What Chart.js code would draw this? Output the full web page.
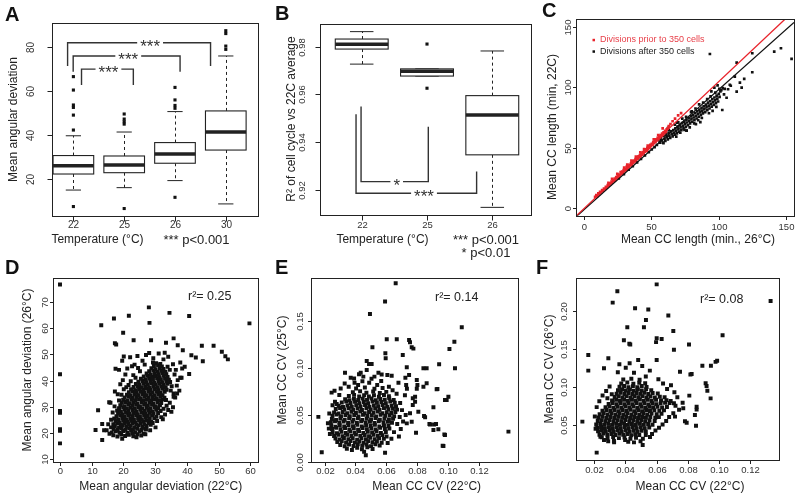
<!DOCTYPE html>
<html>
<head>
<meta charset="utf-8">
<title>Figure</title>
<script src="https://cdn.jsdelivr.net/npm/chart.js@4.4.1/dist/chart.umd.min.js"></script>
<style>
  html, body { margin: 0; padding: 0; background: #fff; }
  #fig { position: relative; width: 800px; height: 499px; overflow: hidden; }
  #fig canvas { position: absolute; left: 0; top: 0; }
</style>
</head>
<body>
<div id="fig">
  <canvas id="cA" width="800" height="499"></canvas>
  <canvas id="cB" width="800" height="499"></canvas>
  <canvas id="cC" width="800" height="499"></canvas>
  <canvas id="cD" width="800" height="499"></canvas>
  <canvas id="cE" width="800" height="499"></canvas>
  <canvas id="cF" width="800" height="499"></canvas>
</div>
<script>
// ---- A: mean angular deviation per temperature (box plot)
const tempLabelsA = ['22', '25', '26', '30'];
const aWhiskerLo = [14.8, 15.9, 19.1, 8.5];
const aQ1 = [22.1, 22.7, 27.0, 33.0];
const aMedian = [25.9, 26.2, 31.2, 41.2];
const aQ3 = [30.5, 30.3, 36.4, 50.8];
const aWhiskerHi = [39.5, 41.2, 50.5, 75.8];
const aOutliers = [[1, 66.4], [1, 60.3], [1, 53.5], [1, 52.4], [1, 48.9], [1, 42.1], [1, 7.3],
  [2, 49.4], [2, 47.1], [2, 45.9], [2, 44.8], [2, 6.4],
  [3, 61.5], [3, 55.8], [3, 53.3], [3, 52.0], [3, 11.5],
  [4, 87.3], [4, 86.0], [4, 80.3], [4, 78.8]];
const aTicksY = [20, 40, 60, 80];
// significance brackets in A
const aBrLeft = [0.886, 0.996, 1.16];
const aBrRight = [3.70, 3.10, 2.18];
const aBrLevel = [81.8, 75.8, 69.8];
const aBrFoot = [71.2, 68.6, 62.6];
const aBrTextX = [2.51, 2.08, 1.69];
const aBrText = ['***', '***', '***'];

// ---- B: R^2 of cell cycle vs 22C average
const tempLabelsB = ['22', '25', '26'];
const bWhiskerLo = [0.9727, 0.9677, 0.9127];
const bQ1 = [0.9790, 0.9677, 0.9347];
const bMedian = [0.9810, 0.9697, 0.9514];
const bQ3 = [0.9832, 0.9707, 0.9595];
const bWhiskerHi = [0.9863, 0.9707, 0.9782];
const bOutliers = [[2, 0.9811], [2, 0.9626]];
const bTicksY = [0.92, 0.94, 0.96, 0.98];
const bTickLabelsY = ['0.92', '0.94', '0.96', '0.98'];
const bBrLeft = [0.99, 0.913];
const bBrRight = [2.02, 2.76];
const bBrLevel = [0.9235, 0.9186];
const bBrLeftEnd = [0.9549, 0.9517];
const bBrRightEnd = [0.9465, 0.9277];
const bBrTextX = [1.536, 1.954];
const bBrText = ['*', '***'];

// ---- C: mean CC length 26C vs 22C
const cTicks = [0, 50, 100, 150];
const cRedFitX = [-6, 150];
const cRedFitY = [-6.3, 156.8];
const cBlackFitX = [-6, 156];
const cBlackFitY = [-6.9, 153.4];
const cRed = [[8.2,9.6],[9.1,10.9],[9.7,10.2],[10.6,12.4],[11.2,11.8],[11.9,13.7],[12.7,13.3],[13.4,15.1],[14.1,14.6],[14.8,16.4],[15.5,15.8],[16.2,17.7],[16.9,17.1],[17.6,19.2],[18.3,18.7],[19,20.6],[19.6,19.9],[20.4,22.2],[21,21.3],[21.6,23.5],[22.2,22.8],[22.8,24.7],[23.3,23.6],[23.9,25.8],[24.5,25],[25,27.4],[25.6,26.2],[26.1,28],[26.7,27.3],[27.2,29.9],[27.8,28.5],[28.3,30.3],[28.9,29.7],[29.4,31.6],[30,30.8],[30.5,32.5],[31.1,31.8],[31.6,34.4],[32.2,33],[32.7,35],[33.3,34.1],[33.8,35.9],[34.4,35.4],[34.9,37.2],[35.5,36.3],[36,38.8],[36.6,37.5],[37.1,39.5],[37.7,38.7],[38.2,40.6],[38.8,39.8],[39.3,41.7],[39.9,41],[40.4,42.9],[41,42.1],[41.5,44],[42.1,43.2],[42.6,45.3],[43.2,44.4],[43.7,46.5],[44.3,45.5],[44.8,47.4],[45.4,46.8],[45.9,48.7],[46.5,47.7],[47,50],[47.6,48.9],[48.1,51.1],[48.7,50.2],[49.2,52.4],[49.8,51.3],[50.3,53.3],[50.9,52.5],[51.4,54.7],[52,53.8],[52.5,55.8],[53.1,54.9],[53.6,57],[54.2,56.1],[54.7,58.2],[55.3,57.1],[55.8,59.3],[56.4,58.5],[56.9,60.4],[57.5,59.6],[58,61.7],[58.6,60.6],[59.1,62.8],[59.7,62],[60.2,63.9],[60.8,63.1],[61.4,65.2],[62.1,66],[58.4,66.1],[62.9,67.9],[64.2,69.6],[65.8,71.9],[67.6,74.1],[69.9,76.7],[72.1,78.6],[24.7,28.6],[29.8,33.7],[32.1,36.1],[35.2,39.4],[41.8,46.2],[47.3,51.8],[51.8,56.9],[55.1,60.5],[20.8,24.3],[18.1,21.2],[44.6,48.9],[38.5,42.8]];
const cBlack = [[25.8,24.8],[29.6,28.3],[33.1,31.9],[36.2,34.8],[39.4,38],[42.3,40.9],[45.2,43.7],[48.1,46.5],[50.3,48.6],[52.4,50.6],[54.1,52.4],[56.3,54.3],[57.2,56.7],
  [55.5,57],[56.2,55],[57,58.5],[57.8,56.2],[58.5,54.3],[59.1,59.8],[59.8,57.4],[60.4,55.6],[61,60.8],[61.6,58.7],[62.2,56.9],[62.8,62.3],[63.4,60.1],[64,58.2],[64.6,63.5],[65.2,61.4],[65.8,59.5],[60.5,62.6],[63,64.5],[59,53.8],[62.5,66.5],
  [66.3,64.7],[66.8,62.6],[67.3,60.8],[67.9,66.1],[68.4,64],[69,61.9],[69.5,67.4],[70.1,65.3],[70.6,63.4],[71.2,68.9],[71.7,66.8],[72.3,64.6],[72.8,70.3],[73.4,68.1],[73.9,66],[74.5,71.6],[75,69.5],[75.6,67.2],[76.1,73.1],[76.6,70.9],[67.5,69],[70,71],[73,74],[68.5,59.3],[74.6,64.8],[76.2,64.1],[71.5,62.4],[75.8,75.6],[69.2,70.8],
  [77.2,68.6],[77.7,74.4],[78.2,72.3],[78.8,70.1],[79.3,76],[79.8,73.6],[80.4,71.5],[80.9,77.2],[81.4,75],[82,72.9],[82.5,78.7],[83,76.4],[83.6,74.2],[84.1,80.1],[84.6,77.8],[85.2,75.6],[85.7,81.5],[86.2,79.3],[86.8,77],[87.3,82.9],[87.8,80.6],[88.3,78.4],[80,80.1],[82.8,82.4],[85.5,85.8],[88.5,87.3],[78.5,66.8],[81.8,70.2],[84.8,72.9],[87.5,74.6],[79.5,79.4],
  [88.9,84.1],[89.4,81.9],[90,79.5],[90.5,85.6],[91,83.4],[91.6,81],[92.1,87.2],[92.6,84.8],[93.2,82.4],[93.7,88.6],[94.2,86.3],[94.8,83.9],[95.3,90.2],[95.8,87.7],[96.4,85.4],[96.9,91.5],[97.4,89.1],[98,86.8],[98.5,93],[99,90.6],[99.6,88.2],[100.1,94.5],[100.7,92],[101.3,96.6],[91.5,90.2],[94,92.5],[97.5,95.5],[100.5,98.6],[102,97.5],[103,99.3],[104.5,98.6],[92.8,78.5],[95.5,80.4],[98.3,83.7],[96.8,99.6],[99.2,101.5],[94.6,96.5],
  [93.5,127.4],[113.4,120.2],[125,128],[141.3,129.3],[146.3,132.1],[154.2,123.3],[125,112.3],[119,106.8],[117.1,99.6],[113.4,96.3],[105.9,91.3],[102.7,81.2],[112,108.7],[115.8,103.7],[108.3,102],[109,101.2],[107,98.3],[104,94],[76.2,64.1],[86.4,71.2],[83.1,69.5]];

// ---- D: mean angular deviation 22C vs 26C
const dTicksX = [0, 10, 20, 30, 40, 50, 60];
const dTicksY = [10, 20, 30, 40, 50, 60, 70];
const dPoints = [
  [16.8,19.2],[18.1,18.7],[19.3,19.5],[20.5,18.9],[21.7,19.4],[23.1,18.8],[24.4,19.6],[15.6,19.8],
  [16.3,20.3],[17.6,20.7],[18.8,20.1],[19.9,20.8],[21.2,20.2],[22.4,20.9],[23.7,20.3],[25.1,20.6],[26.4,19.8],
  [16.9,21.6],[18.2,21.2],[19.4,21.8],[20.6,21.3],[21.8,21.9],[23,21.4],[24.3,21.7],[25.6,21.2],[26.8,21.8],
  [17.3,22.6],[18.6,22.2],[19.8,22.9],[21,22.4],[22.3,22.8],[23.5,22.3],[24.8,22.9],[26,22.4],[27.3,22.7],
  [16.8,23.4],[18,23.8],[19.2,23.3],[20.4,23.9],[21.6,23.5],[22.9,23.9],[24.1,23.3],[25.4,23.8],[26.6,23.4],[27.9,23.9],
  [17.5,24.5],[18.7,24.2],[19.9,24.8],[21.2,24.3],[22.4,24.7],[23.7,24.2],[24.9,24.8],[26.2,24.4],[27.4,24.9],[28.7,24.3],
  [17.1,25.6],[18.3,25.2],[19.6,25.8],[20.8,25.3],[22.1,25.7],[23.3,25.2],[24.6,25.8],[25.8,25.3],[27,25.9],[28.3,25.4],[29.7,25.7],
  [17.8,26.4],[19,26.8],[20.3,26.3],[21.5,26.9],[22.8,26.4],[24,26.8],[25.2,26.3],[26.5,26.9],[27.7,26.5],[29,26.8],[30.4,26.2],
  [18.3,27.5],[19.6,27.2],[20.8,27.8],[22,27.3],[23.3,27.7],[24.5,27.2],[25.7,27.8],[27,27.3],[28.2,27.9],[29.5,27.4],[30.9,27.7],
  [18,28.6],[19.2,28.3],[20.4,28.9],[21.6,28.4],[22.9,28.8],[24.1,28.3],[25.3,28.9],[26.6,28.4],[27.8,28.8],[29.1,28.3],[30.3,28.9],
  [18.6,29.5],[19.9,29.9],[21.1,29.4],[22.3,29.8],[23.6,29.3],[24.8,29.9],[26,29.4],[27.3,29.8],[28.5,29.3],[29.8,29.9],[31,29.5],
  [19,30.6],[20.3,30.3],[21.5,30.9],[22.8,30.4],[24,30.8],[25.2,30.3],[26.5,30.9],[27.7,30.4],[29,30.8],[30.2,30.3],[31.5,30.7],
  [19.5,31.6],[20.7,31.9],[22,31.4],[23.2,31.8],[24.4,31.3],[25.7,31.9],[26.9,31.4],[28.2,31.8],[29.4,31.3],[30.7,31.9],[31.9,31.5],
  [19.9,32.7],[21.2,32.3],[22.5,32.8],[23.7,32.4],[24.9,32.9],[26.2,32.4],[27.4,32.8],[28.7,32.3],[29.9,32.9],[31.2,32.4],[32.4,32.8],
  [20.4,33.6],[21.7,33.9],[22.9,33.4],[24.1,33.8],[25.4,33.3],[26.6,33.9],[27.9,33.4],[29.1,33.8],[30.4,33.3],[31.6,33.9],[32.9,33.5],
  [21.1,34.6],[22.3,34.3],[23.6,34.8],[24.8,34.4],[26.1,34.9],[27.3,34.4],[28.5,34.8],[29.8,34.3],[31,34.9],[32.3,34.4],
  [21.7,35.6],[23,35.9],[24.2,35.4],[25.5,35.8],[26.7,35.3],[28,35.9],[29.2,35.4],[30.5,35.8],[31.7,35.3],[33,35.8],
  [22.4,36.7],[23.7,36.3],[24.9,36.8],[26.2,36.4],[27.4,36.9],[28.6,36.4],[29.9,36.8],[31.1,36.3],[32.4,36.9],[33.6,36.5],
  [23.2,37.6],[24.5,37.9],[25.8,37.4],[27,37.8],[28.3,37.3],[29.5,37.9],[30.8,37.4],[32,37.8],[33.3,37.4],
  [23.9,38.7],[25.1,38.3],[26.4,38.8],[27.7,38.4],[28.9,38.9],[30.2,38.4],[31.4,38.8],[32.7,38.3],[33.9,38.8],
  [24.7,39.6],[26,39.9],[27.2,39.4],[28.5,39.8],[29.7,39.3],[31,39.9],[32.2,39.4],[33.5,39.8],[34.7,39.5],
  [25.5,40.7],[26.9,40.3],[28.1,40.8],[29.3,40.4],[30.6,40.9],[31.8,40.4],[33.1,40.8],[34.3,40.3],
  [26.4,41.6],[27.7,41.9],[29,41.4],[30.2,41.8],[31.4,41.3],[32.7,41.9],[33.9,41.4],
  [27.3,42.7],[28.6,42.3],[29.8,42.8],[31.1,42.4],[32.3,42.9],[33.5,42.4],
  [28.1,43.6],[29.4,43.9],[30.7,43.4],[31.9,43.8],[33.2,43.4],
  [28.8,44.7],[30.1,44.3],[31.4,44.8],[32.6,44.4],[29.6,45.6],[30.9,45.9],[32.1,45.4],[30.3,46.6],[31.6,46.3],
  [15.5,31.8],[16.6,27.9],[17.3,35.9],[18.2,34.8],[19,38.6],[19.8,40.2],[20.6,42.3],[21.2,44.6],[19.6,47.6],[22.1,48.9],[23.5,46.1],[24.4,49.4],[26,47.6],[27.1,49.8],[25.2,43.6],[21.6,38.3],[20.1,36.7],[23.1,42.1],[26.7,46.1],[28.1,50.5],[29.4,48.5],[31.1,50.3],[33,50.6],[34.1,49.1],[32.6,48.1],[35.6,46.2],[36.5,44.1],[36.1,42.3],[37.1,40.2],[36.8,38.1],[37.6,36.2],[35.8,35.1],[36.3,33.6],[34.6,31.6],[33.6,30.4],[35.6,29.9],[34.1,28.8],[33.1,27.1],[35.1,28.1],[30.6,24.6],[31.9,26.1],[30.1,22.2],[28.6,23.2],[27.1,21.4],[25.6,19.1],[26.9,19.6],[24.1,18.4],[19.6,17.9],[38.3,41.1],[33.9,45.3],[34.6,44.1],[35.2,37.9],[34.9,36.2],[36.9,35.1],[33.4,32.6],[32.6,29.3],[31.7,28.4],[32.4,25.3],[29.2,23.9],[28.4,21.1],[22.9,19.9],[17.2,30.2],[16.1,25.1],[15.2,23.4],[14.7,21.1],[18.6,32.4],[19.4,34.6],[20.9,37.5],[22.3,39.8],[23.8,41.1],[24.6,44.8],[22.7,45.5],[18.6,44.1],[17.5,44.5],[20.1,49.2],[16.1,22.2],[13.9,21.1],[29.3,46.9],
  [0,76.6],[0,42.4],[0,28.4],[0,27.8],[0,21.5],[0,20.9],[0,16.1],[7,11.6],[13,61.1],[17,63.7],[21.7,64.7],[28,67.9],[28.2,62],[34.5,65.8],[40.7,64.6],[59.7,61.8],[19.9,58.2],[17.3,54.2],[17.7,53.8],[23.2,55.4],[28.7,55.4],[33.4,54.4],[35.8,56.1],[37.1,53.5],[38.7,51.6],[44.7,53.3],[48.4,53.3],[51,51],[52.1,49.3],[52.9,48.1],[45,47.4],[42.8,48.8],[41.4,49.7],[37.9,46.9],[39.3,45.3],[37.9,41.1],[38.5,44.6],[40.7,42.5],[35.8,33.9],[12,28.7],[11.2,21.2],[13.3,23.5],[13.3,17.4],[15.9,31.6]];

// ---- E: mean CC CV 22C vs 25C
const cvTicksX = [0.02, 0.04, 0.06, 0.08, 0.10, 0.12];
const cvTickLabelsX = ['0.02', '0.04', '0.06', '0.08', '0.10', '0.12'];
const eTicksY = [0, 0.05, 0.10, 0.15];
const eTickLabelsY = ['0.00', '0.05', '0.10', '0.15'];
const ePoints = [
  [0.0345,0.0142],[0.0378,0.0128],[0.0412,0.0151],[0.0443,0.0135],[0.0478,0.0158],[0.0512,0.0139],
  [0.0302,0.0181],[0.0331,0.0168],[0.0359,0.0186],[0.0388,0.0171],[0.0416,0.0189],[0.0445,0.0173],[0.0473,0.0185],[0.0502,0.0169],[0.053,0.0188],[0.0558,0.0176],
  [0.0283,0.0212],[0.0312,0.0221],[0.034,0.0207],[0.0369,0.0223],[0.0397,0.0209],[0.0426,0.0218],[0.0454,0.0204],[0.0483,0.0222],[0.0511,0.0211],[0.054,0.0219],[0.0571,0.0206],
  [0.0271,0.0251],[0.0298,0.0239],[0.0326,0.0256],[0.0355,0.0241],[0.0383,0.0254],[0.0412,0.0238],[0.044,0.0252],[0.0469,0.0243],[0.0497,0.0257],[0.0526,0.0241],[0.0554,0.0253],[0.0585,0.0246],
  [0.0262,0.0277],[0.029,0.0291],[0.0318,0.0274],[0.0347,0.0289],[0.0375,0.0276],[0.0404,0.0292],[0.0432,0.0278],[0.0461,0.0288],[0.0489,0.0273],[0.0518,0.0291],[0.0546,0.0279],[0.0575,0.0286],[0.0603,0.0272],
  [0.0253,0.0318],[0.0281,0.0306],[0.031,0.0322],[0.0338,0.0309],[0.0367,0.0324],[0.0395,0.0311],[0.0424,0.0326],[0.0452,0.0308],[0.0481,0.0321],[0.0509,0.0313],[0.0538,0.0327],[0.0566,0.0309],[0.0598,0.0319],
  [0.0249,0.0352],[0.0276,0.0364],[0.0304,0.0348],[0.0333,0.0361],[0.0361,0.0346],[0.039,0.0359],[0.0418,0.0344],[0.0447,0.0362],[0.0475,0.0349],[0.0504,0.0358],[0.0532,0.0345],[0.0561,0.0363],[0.0592,0.0351],[0.0621,0.0357],
  [0.0244,0.0388],[0.0271,0.0376],[0.0299,0.0392],[0.0328,0.0379],[0.0356,0.0394],[0.0385,0.0381],[0.0413,0.0396],[0.0442,0.0378],[0.047,0.0391],[0.0499,0.0383],[0.0527,0.0397],[0.0556,0.0379],[0.0586,0.0389],[0.0615,0.0382],
  [0.0241,0.0423],[0.0268,0.0434],[0.0296,0.0418],[0.0324,0.0431],[0.0353,0.0416],[0.0381,0.0429],[0.041,0.0414],[0.0438,0.0432],[0.0467,0.0419],[0.0495,0.0428],[0.0524,0.0415],[0.0552,0.0433],[0.0583,0.0421],[0.0612,0.0427],[0.0638,0.0417],
  [0.0248,0.0458],[0.0275,0.0446],[0.0303,0.0462],[0.0331,0.0449],[0.036,0.0464],[0.0388,0.0451],[0.0417,0.0466],[0.0445,0.0448],[0.0474,0.0461],[0.0502,0.0453],[0.0531,0.0467],[0.0559,0.0449],[0.0589,0.0459],[0.0618,0.0452],[0.0645,0.0461],
  [0.0252,0.0493],[0.0279,0.0504],[0.0307,0.0488],[0.0336,0.0501],[0.0364,0.0486],[0.0393,0.0499],[0.0421,0.0484],[0.045,0.0502],[0.0478,0.0489],[0.0507,0.0498],[0.0535,0.0485],[0.0564,0.0503],[0.0594,0.0491],[0.0623,0.0497],[0.0652,0.0487],
  [0.0262,0.0528],[0.029,0.0516],[0.0318,0.0532],[0.0347,0.0519],[0.0375,0.0534],[0.0404,0.0521],[0.0432,0.0536],[0.0461,0.0518],[0.0489,0.0531],[0.0518,0.0523],[0.0546,0.0537],[0.0575,0.0519],[0.0604,0.0529],[0.0633,0.0522],[0.066,0.0531],
  [0.0273,0.0563],[0.0301,0.0574],[0.0329,0.0558],[0.0358,0.0571],[0.0386,0.0556],[0.0415,0.0569],[0.0443,0.0554],[0.0472,0.0572],[0.05,0.0559],[0.0529,0.0568],[0.0557,0.0555],[0.0586,0.0573],[0.0615,0.0561],[0.0644,0.0567],[0.0671,0.0557],
  [0.0292,0.0598],[0.032,0.0586],[0.0349,0.0602],[0.0377,0.0589],[0.0406,0.0604],[0.0434,0.0591],[0.0463,0.0606],[0.0491,0.0588],[0.052,0.0601],[0.0548,0.0593],[0.0577,0.0607],[0.0607,0.0589],[0.0636,0.0599],[0.0664,0.0592],
  [0.0312,0.0633],[0.0341,0.0644],[0.0369,0.0628],[0.0398,0.0641],[0.0426,0.0626],[0.0455,0.0639],[0.0483,0.0624],[0.0512,0.0642],[0.054,0.0629],[0.0569,0.0638],[0.0598,0.0625],[0.0627,0.0643],[0.0656,0.0631],
  [0.0334,0.0668],[0.0362,0.0656],[0.0391,0.0672],[0.0419,0.0659],[0.0448,0.0674],[0.0476,0.0661],[0.0505,0.0676],[0.0533,0.0658],[0.0562,0.0671],[0.0591,0.0663],[0.062,0.0677],[0.0649,0.0659],
  [0.0358,0.0703],[0.0392,0.0714],[0.0425,0.0698],[0.0457,0.0711],[0.0488,0.0696],[0.0521,0.0709],[0.0553,0.0694],[0.0586,0.0712],[0.0618,0.0699],
  [0.0384,0.0741],[0.0431,0.0752],[0.0472,0.0737],[0.0516,0.0749],[0.0559,0.0735],[0.0601,0.0746],
  [0.0405,0.0781],[0.0462,0.0792],[0.0524,0.0779],[0.0577,0.0788],
  [0.0222,0.0412],[0.0228,0.0355],[0.0235,0.0298],[0.0231,0.0517],[0.0252,0.0603],[0.0265,0.0757],[0.0305,0.0782],[0.0331,0.0835],[0.0357,0.0801],[0.0395,0.0842],[0.0418,0.0818],[0.0446,0.0859],[0.049,0.0843],[0.0505,0.0885],[0.0542,0.0818],[0.0568,0.0862],[0.0618,0.0801],[0.0642,0.0764],[0.0668,0.0726],[0.0691,0.0628],[0.0703,0.0552],[0.0688,0.0478],[0.0672,0.0405],[0.0695,0.0352],[0.0651,0.0318],[0.0634,0.0248],[0.061,0.0202],[0.0683,0.0271],[0.071,0.0431],
  [0.0246,0.0738],[0.0296,0.0713],[0.0268,0.064],[0.0279,0.0617],[0.0333,0.095],[0.037,0.0897],[0.0392,0.0887],[0.0424,0.0933],[0.0435,0.095],[0.0452,0.0908],[0.0474,0.0979],[0.0524,0.0908],[0.0571,0.093],[0.0608,0.0925],[0.0636,0.0918],[0.068,0.0844],[0.0725,0.0897],[0.073,0.082],[0.0735,0.078],[0.0722,0.071],[0.0799,0.078],[0.0788,0.0695],[0.0842,0.08],[0.0863,0.0837],[0.0788,0.064],[0.0773,0.0606],[0.0809,0.0535],[0.0853,0.0475],[0.0885,0.04],[0.0911,0.04],[0.0939,0.0348],[0.0972,0.017],[0.0982,0.0287],[0.0993,0.066],[0.0928,0.0773],[0.0474,0.1074],[0.0489,0.1043],[0.0506,0.1043],[0.055,0.095],[0.0511,0.122],[0.0604,0.1305],[0.0595,0.1156],[0.0597,0.1103],[0.0708,0.1138],[0.0842,0.0996],[0.0863,0.0996],[0.0944,0.1039],[0.016,0.048],[0.0182,0.0103],[0.0468,0.0072],[0.0457,0.011],[0.0593,0.0099],[0.0662,0.19],[0.0593,0.1706],[0.0495,0.1574],[0.1394,0.0323],[0.1091,0.1433],[0.1043,0.128],[0.1011,0.1202],[0.1047,0.0996],[0.0669,0.1305],[0.0749,0.1298],[0.0755,0.1273],[0.0766,0.122],[0.0777,0.1206],[0.0734,0.1007],[0.0749,0.0926],[0.0799,0.0872],[0.0803,0.0819],[0.0773,0.0677],[0.0727,0.05],[0.0755,0.0518],[0.0766,0.0429],[0.0794,0.0312],[0.0734,0.0411],[0.0907,0.0582],[0.0846,0.0489],[0.0907,0.034],[0.0933,0.0777],[0.1004,0.0695],[0.0982,0.066],[0.0978,0.0294],[0.0967,0.0174],[0.0881,0.0404],[0.0924,0.0404]];

// ---- F: mean CC CV 22C vs 26C
const fTicksY = [0.05, 0.10, 0.15, 0.20];
const fTickLabelsY = ['0.05', '0.10', '0.15', '0.20'];
const fPoints = [
  [0.0248,0.0338],[0.0285,0.0322],[0.0321,0.0341],[0.0358,0.0327],[0.0394,0.0335],[0.0432,0.0318],[0.0468,0.0331],
  [0.0233,0.0372],[0.0259,0.0386],[0.0284,0.0369],[0.031,0.0381],[0.0335,0.0367],[0.0361,0.0384],[0.0386,0.0371],[0.0412,0.0382],[0.0437,0.0366],[0.0463,0.0379],[0.0489,0.0368],
  [0.0224,0.0417],[0.0249,0.0428],[0.0274,0.0413],[0.03,0.0426],[0.0325,0.0411],[0.0351,0.0427],[0.0376,0.0414],[0.0402,0.0429],[0.0427,0.0412],[0.0453,0.0425],[0.0478,0.041],[0.0504,0.0424],[0.0531,0.0415],
  [0.0219,0.0461],[0.0243,0.0472],[0.0268,0.0457],[0.0294,0.047],[0.0319,0.0456],[0.0345,0.0471],[0.037,0.0458],[0.0396,0.0473],[0.0421,0.0456],[0.0447,0.0469],[0.0472,0.0455],[0.0498,0.047],[0.0524,0.0458],[0.0553,0.0468],
  [0.0212,0.0506],[0.0238,0.0517],[0.0263,0.0502],[0.0289,0.0515],[0.0314,0.0501],[0.034,0.0516],[0.0365,0.0503],[0.0391,0.0518],[0.0416,0.0501],[0.0442,0.0514],[0.0467,0.05],[0.0493,0.0515],[0.0518,0.0503],[0.0546,0.0513],[0.0574,0.0504],
  [0.0222,0.0552],[0.0247,0.0563],[0.0272,0.0548],[0.0298,0.0561],[0.0323,0.0547],[0.0349,0.0562],[0.0374,0.0549],[0.04,0.0564],[0.0425,0.0547],[0.0451,0.056],[0.0476,0.0546],[0.0502,0.0561],[0.0527,0.0549],[0.0555,0.0559],[0.0588,0.0551],
  [0.0226,0.0597],[0.0252,0.0608],[0.0277,0.0593],[0.0303,0.0606],[0.0328,0.0592],[0.0354,0.0607],[0.0379,0.0594],[0.0405,0.0609],[0.043,0.0592],[0.0456,0.0605],[0.0481,0.0591],[0.0507,0.0606],[0.0532,0.0594],[0.056,0.0604],[0.0592,0.0596],[0.0615,0.0603],
  [0.0234,0.0642],[0.026,0.0653],[0.0285,0.0638],[0.0311,0.0651],[0.0336,0.0637],[0.0362,0.0652],[0.0387,0.0639],[0.0413,0.0654],[0.0438,0.0637],[0.0464,0.065],[0.0489,0.0636],[0.0515,0.0651],[0.054,0.0639],[0.0568,0.0649],[0.0601,0.0641],[0.0632,0.0648],
  [0.0252,0.0687],[0.0278,0.0698],[0.0303,0.0683],[0.0329,0.0696],[0.0354,0.0682],[0.038,0.0697],[0.0405,0.0684],[0.0431,0.0699],[0.0456,0.0682],[0.0482,0.0695],[0.0507,0.0681],[0.0533,0.0696],[0.0558,0.0684],[0.0586,0.0694],[0.0618,0.0686],[0.0648,0.0692],
  [0.0272,0.0732],[0.0298,0.0743],[0.0323,0.0728],[0.0349,0.0741],[0.0374,0.0727],[0.04,0.0742],[0.0425,0.0729],[0.0451,0.0744],[0.0476,0.0727],[0.0502,0.074],[0.0527,0.0726],[0.0553,0.0741],[0.0578,0.0729],[0.0606,0.0739],[0.0636,0.0731],[0.0667,0.0737],
  [0.0292,0.0777],[0.0318,0.0788],[0.0343,0.0773],[0.0369,0.0786],[0.0394,0.0772],[0.042,0.0787],[0.0445,0.0774],[0.0471,0.0789],[0.0496,0.0772],[0.0522,0.0785],[0.0547,0.0771],[0.0573,0.0786],[0.0598,0.0774],[0.0626,0.0784],[0.0655,0.0791],[0.0684,0.0789],[0.0712,0.0786],
  [0.0314,0.0822],[0.034,0.0833],[0.0365,0.0818],[0.0391,0.0831],[0.0416,0.0817],[0.0442,0.0832],[0.0467,0.0819],[0.0493,0.0834],[0.0518,0.0817],[0.0544,0.083],[0.0569,0.0816],[0.0597,0.0831],[0.0629,0.0823],[0.0664,0.0827],[0.0691,0.0815],
  [0.0331,0.0867],[0.0357,0.0878],[0.0382,0.0863],[0.0408,0.0876],[0.0433,0.0862],[0.0459,0.0877],[0.0484,0.0864],[0.051,0.0879],[0.0535,0.0862],[0.0561,0.0875],[0.0589,0.0861],[0.0621,0.0872],[0.0652,0.0866],
  [0.0343,0.0912],[0.0369,0.0923],[0.0394,0.0908],[0.042,0.0921],[0.0445,0.0907],[0.0471,0.0922],[0.0496,0.0909],[0.0522,0.0924],[0.0547,0.0907],[0.0575,0.092],[0.0608,0.0913],
  [0.0352,0.0957],[0.0378,0.0968],[0.0403,0.0953],[0.0429,0.0966],[0.0454,0.0952],[0.048,0.0967],[0.0505,0.0954],[0.0533,0.0969],[0.0566,0.0956],
  [0.0362,0.1002],[0.0391,0.1013],[0.0419,0.0998],[0.0448,0.1011],[0.0476,0.0997],[0.0505,0.1012],[0.0536,0.0999],
  [0.0373,0.1047],[0.0412,0.1058],[0.0451,0.1043],[0.0489,0.1056],[0.0527,0.1049],[0.0386,0.1097],[0.0438,0.1109],[0.0491,0.1094],
  [0.0361,0.130],[0.0262,0.1246],[0.029,0.1377],[0.0351,0.1195],[0.0402,0.1254],[0.0427,0.1312],[0.0455,0.1188],[0.0482,0.1356],[0.0508,0.1276],[0.0531,0.1139],[0.0557,0.1215],[0.0601,0.1355],[0.0612,0.1102],[0.0642,0.1046],[0.0668,0.0972],[0.0693,0.1022],[0.0715,0.0931],[0.0734,0.0866],[0.0722,0.0752],[0.0745,0.0701],[0.0708,0.0653],[0.0681,0.0604],[0.0662,0.0553],[0.0639,0.0505],[0.0616,0.0462],[0.0593,0.0428],[0.0571,0.0381],[0.0558,0.0342],[0.0531,0.0368],[0.0512,0.0318],[0.0497,0.0287],[0.0455,0.0271],[0.0418,0.0278],[0.0398,0.0301],[0.0327,0.0271],[0.0289,0.0284],[0.0262,0.0302],[0.0239,0.0346],[0.0208,0.0451],[0.0203,0.0612],[0.0215,0.0735],[0.0232,0.0812],[0.0253,0.0889],[0.0276,0.0948],[0.0298,0.1006],[0.0284,0.0852],[0.0312,0.0905],
  [0.0751,0.120],[0.0826,0.117],[0.0818,0.1165],[0.0895,0.128],[0.095,0.128],[0.098,0.133],[0.099,0.1346],[0.0916,0.105],[0.0922,0.1013],[0.0927,0.095],[0.0948,0.085],[0.0858,0.074],[0.0811,0.0886],[0.0772,0.072],[0.0794,0.053],[0.0719,0.061],[0.0847,0.063],[0.0854,0.049],[0.0783,0.055],[0.0511,0.0237],[0.0326,0.029],[0.0601,0.235],[0.0348,0.226],[0.0318,0.211],[0.0462,0.2035],[0.0547,0.202],[0.0532,0.188],[0.0676,0.194],[0.0412,0.1785],[0.0519,0.1785],[0.0708,0.1737],[0.1025,0.168],[0.039,0.1616],[0.0601,0.164],[0.0633,0.163],[0.0597,0.159],[0.0425,0.157],[0.0431,0.1558],[0.0809,0.156],[0.0712,0.149],[0.0161,0.142],[0.0161,0.1215],[0.0123,0.0544],[0.0215,0.0136],[0.1334,0.213],[0.0858,0.0702],[0.0768,0.0792]];

// ------------------------------------------------------------------
const FONT = '"Liberation Sans", Arial, Helvetica, sans-serif';
const INK = '#222';
const RED = '#e8232b';
const TITLE = '12px ' + FONT;
const LETTER = 'bold 20px ' + FONT;

const toXY = arr => arr.map(p => ({ x: p[0], y: p[1] }));
const pad = (l, t, r, b) => ({ left: l, top: t, right: 800 - r, bottom: 499 - b });

function drawText(ctx, t) {
  ctx.save();
  ctx.font = t.font || TITLE;
  ctx.fillStyle = t.color || INK;
  ctx.textAlign = t.align || 'center';
  ctx.textBaseline = 'middle';
  ctx.translate(t.x, t.y);
  if (t.rot) ctx.rotate(-Math.PI / 2);
  ctx.fillText(t.s, 0, 0);
  ctx.restore();
}

// R-like frame, outward ticks, rotated y labels, free texts
function framePlugin(cfg) {
  return {
    id: 'rframe',
    beforeDatasetsDraw(chart) { if (cfg.under) cfg.under(chart); },
    afterDatasetsDraw(chart) {
      const { ctx, chartArea: a, scales: { x, y } } = chart;
      ctx.save();
      if (cfg.over) cfg.over(chart);
      ctx.strokeStyle = INK;
      ctx.lineWidth = 1;
      const L = Math.round(a.left) + 0.5, T = Math.round(a.top) + 0.5;
      const R = Math.round(a.right) + 0.5, B = Math.round(a.bottom) + 0.5;
      ctx.strokeRect(L, T, R - L, B - T);
      ctx.fillStyle = '#333';
      ctx.font = cfg.tickFont;
      ctx.textAlign = 'center';
      ctx.textBaseline = 'middle';
      cfg.xTicks.forEach((v, i) => {
        const px = Math.round(x.getPixelForValue(v)) + 0.5;
        ctx.beginPath(); ctx.moveTo(px, B); ctx.lineTo(px, B + cfg.tickLen); ctx.stroke();
        ctx.fillText(cfg.xLabels[i], px, cfg.xLabelY);
      });
      cfg.yTicks.forEach((v, i) => {
        const py = Math.round(y.getPixelForValue(v)) + 0.5;
        ctx.beginPath(); ctx.moveTo(L, py); ctx.lineTo(L - cfg.tickLen, py); ctx.stroke();
        ctx.save();
        ctx.translate(cfg.yLabelX, py);
        ctx.rotate(-Math.PI / 2);
        ctx.fillText(cfg.yLabels[i], 0, 0);
        ctx.restore();
      });
      cfg.texts.forEach(t => drawText(ctx, t));
      ctx.restore();
    }
  };
}

function drawBoxes(chart, b) {
  const { ctx, scales: { x, y } } = chart;
  ctx.save();
  ctx.strokeStyle = INK;
  b.median.forEach((m, i) => {
    const c = i + 1;
    const xc = Math.round(x.getPixelForValue(c)) + 0.5;
    const xl = x.getPixelForValue(c - b.half), xr = x.getPixelForValue(c + b.half);
    const cl = x.getPixelForValue(c - b.cap), cr = x.getPixelForValue(c + b.cap);
    const yLo = y.getPixelForValue(b.lo[i]), yHi = y.getPixelForValue(b.hi[i]);
    const y1 = y.getPixelForValue(b.q1[i]), y3 = y.getPixelForValue(b.q3[i]);
    const ym = y.getPixelForValue(m);
    ctx.lineWidth = 1;
    ctx.setLineDash([3, 3]);
    ctx.beginPath();
    ctx.moveTo(xc, y3); ctx.lineTo(xc, yHi);
    ctx.moveTo(xc, y1); ctx.lineTo(xc, yLo);
    ctx.stroke();
    ctx.setLineDash([]);
    ctx.beginPath();
    ctx.moveTo(cl, yHi); ctx.lineTo(cr, yHi);
    ctx.moveTo(cl, yLo); ctx.lineTo(cr, yLo);
    ctx.stroke();
    ctx.fillStyle = '#fff';
    ctx.fillRect(xl, y3, xr - xl, y1 - y3);
    ctx.lineWidth = 1.1;
    ctx.strokeRect(xl, y3, xr - xl, y1 - y3);
    ctx.lineWidth = 3.5;
    ctx.beginPath(); ctx.moveTo(xl, ym); ctx.lineTo(xr, ym); ctx.stroke();
  });
  ctx.restore();
}

function drawBrackets(chart, br) {
  const { ctx, scales: { x, y } } = chart;
  ctx.save();
  ctx.strokeStyle = '#333';
  ctx.lineWidth = 1.4;
  br.left.forEach((lv, i) => {
    const x1 = x.getPixelForValue(lv), x2 = x.getPixelForValue(br.right[i]);
    const yl = y.getPixelForValue(br.level[i]);
    ctx.beginPath();
    ctx.moveTo(x1, y.getPixelForValue(br.leftEnd[i]));
    ctx.lineTo(x1, yl);
    ctx.lineTo(x2, yl);
    ctx.lineTo(x2, y.getPixelForValue(br.rightEnd[i]));
    ctx.stroke();
    ctx.font = br.font;
    const tx = x.getPixelForValue(br.textX[i]);
    const w = ctx.measureText(br.text[i]).width;
    ctx.fillStyle = '#fff';
    ctx.fillRect(tx - w / 2 - 3, yl - 3, w + 6, 6);
    ctx.fillStyle = '#333';
    ctx.textAlign = 'center';
    ctx.textBaseline = 'alphabetic';
    ctx.fillText(br.text[i], tx, yl + br.drop);
  });
  ctx.restore();
}

function dots(data, color, r, order) {
  return {
    data: toXY(data), pointStyle: 'rect', pointRadius: r,
    pointBackgroundColor: color, pointBorderWidth: 0, borderWidth: 0, order: order || 0
  };
}

function makeChart(id, datasets, area, xr, yr, plugin) {
  return new Chart(document.getElementById(id), {
    type: 'scatter',
    data: { datasets },
    options: {
      responsive: false, animation: false, events: [],
      layout: { padding: pad(area[0], area[1], area[2], area[3]) },
      plugins: { legend: { display: false }, tooltip: { enabled: false } },
      scales: {
        x: { type: 'linear', display: false, min: xr[0], max: xr[1] },
        y: { type: 'linear', display: false, min: yr[0], max: yr[1] }
      }
    },
    plugins: [plugin]
  });
}

// ---- A
makeChart('cA', [dots(aOutliers, '#111', 2.2)], [52, 23, 258, 216], [0.579, 4.634], [3.0, 90.8],
  framePlugin({
    tickFont: '10px ' + FONT, tickLen: 5,
    xTicks: [1, 2, 3, 4], xLabels: tempLabelsA, xLabelY: 225.5,
    yTicks: aTicksY, yLabels: aTicksY.map(String), yLabelX: 31.5,
    under: ch => drawBoxes(ch, { lo: aWhiskerLo, q1: aQ1, median: aMedian, q3: aQ3, hi: aWhiskerHi, half: 0.4, cap: 0.15 }),
    over: ch => drawBrackets(ch, { left: aBrLeft, right: aBrRight, level: aBrLevel, leftEnd: aBrFoot, rightEnd: aBrFoot,
      textX: aBrTextX, text: aBrText, font: '17px ' + FONT, drop: 9 }),
    texts: [
      { s: 'A', x: 5, y: 15, font: LETTER, align: 'left', color: '#111' },
      { s: 'Temperature (°C)', x: 97.5, y: 240 },
      { s: '*** p<0.001', x: 196.5, y: 240, font: '13px ' + FONT },
      { s: 'Mean angular deviation', x: 14, y: 119.5, rot: true }
    ]
  }));

// ---- B
makeChart('cB', [dots(bOutliers, '#111', 2.2)], [320, 24, 531, 215], [0.361, 3.593], [0.9095, 0.9895],
  framePlugin({
    tickFont: '9.5px ' + FONT, tickLen: 5,
    xTicks: [1, 2, 3], xLabels: tempLabelsB, xLabelY: 225.5,
    yTicks: bTicksY, yLabels: bTickLabelsY, yLabelX: 302,
    under: ch => drawBoxes(ch, { lo: bWhiskerLo, q1: bQ1, median: bMedian, q3: bQ3, hi: bWhiskerHi, half: 0.405, cap: 0.18 }),
    over: ch => drawBrackets(ch, { left: bBrLeft, right: bBrRight, level: bBrLevel, leftEnd: bBrLeftEnd, rightEnd: bBrRightEnd,
      textX: bBrTextX, text: bBrText, font: '17px ' + FONT, drop: 9 }),
    texts: [
      { s: 'B', x: 275, y: 14, font: LETTER, align: 'left', color: '#111' },
      { s: 'Temperature (°C)', x: 382.5, y: 240 },
      { s: '*** p<0.001', x: 486, y: 240, font: '13px ' + FONT },
      { s: '* p<0.01', x: 486, y: 253, font: '13px ' + FONT },
      { s: 'R² of cell cycle vs 22C average', x: 292, y: 119, rot: true }
    ]
  }));

// ---- C
makeChart('cC', [
  { data: toXY([[cRedFitX[0], cRedFitY[0]], [cRedFitX[1], cRedFitY[1]]]), showLine: true, pointRadius: 0,
    borderColor: RED, borderWidth: 1.3, clip: 0, order: 0 },
  { data: toXY([[cBlackFitX[0], cBlackFitY[0]], [cBlackFitX[1], cBlackFitY[1]]]), showLine: true, pointRadius: 0,
    borderColor: '#111', borderWidth: 1.3, clip: 0, order: 0 },
  dots(cRed, RED, 1.9, 1),
  dots(cBlack, '#111', 1.9, 2)
], [576, 19.3, 794, 215.7], [-6, 156], [-6, 156],
  framePlugin({
    tickFont: '9.5px ' + FONT, tickLen: 3.5,
    xTicks: cTicks, xLabels: cTicks.map(String), xLabelY: 227.5,
    yTicks: cTicks, yLabels: cTicks.map(String), yLabelX: 568,
    over: ch => {
      const ctx = ch.ctx;
      ctx.fillStyle = RED; ctx.fillRect(592.5, 38.8, 2.5, 2.5);
      ctx.fillStyle = '#111'; ctx.fillRect(592.5, 50.3, 2.5, 2.5);
    },
    texts: [
      { s: 'C', x: 542, y: 11, font: LETTER, align: 'left', color: '#111' },
      { s: 'Divisions prior to 350 cells', x: 600, y: 40, font: '9px ' + FONT, align: 'left', color: '#e8404a' },
      { s: 'Divisions after 350 cells', x: 600, y: 51.5, font: '9px ' + FONT, align: 'left' },
      { s: 'Mean CC length (min., 26°C)', x: 698, y: 240 },
      { s: 'Mean CC length (min, 22C)', x: 553, y: 127, rot: true }
    ]
  }));

// ---- D
makeChart('cD', [dots(dPoints, '#111', 2.8)], [52.7, 277.7, 257.7, 462.3], [-2.3, 62.3], [8.9, 79.2],
  framePlugin({
    tickFont: '9.5px ' + FONT, tickLen: 3.5,
    xTicks: dTicksX, xLabels: dTicksX.map(String), xLabelY: 471,
    yTicks: dTicksY, yLabels: dTicksY.map(String), yLabelX: 45.5,
    texts: [
      { s: 'D', x: 5, y: 268, font: LETTER, align: 'left', color: '#111' },
      { s: 'r²= 0.25', x: 188, y: 297, font: '12.5px ' + FONT, align: 'left' },
      { s: 'Mean angular deviation (22°C)', x: 160.8, y: 487 },
      { s: 'Mean angular deviation (26°C)', x: 28, y: 370, rot: true }
    ]
  }));

// ---- E
makeChart('cE', [dots(ePoints, '#111', 2.8)], [310.5, 277.7, 518.3, 462.3], [0.0109, 0.1458], [-0.0003, 0.196],
  framePlugin({
    tickFont: '9.5px ' + FONT, tickLen: 3.5,
    xTicks: cvTicksX, xLabels: cvTickLabelsX, xLabelY: 471,
    yTicks: eTicksY, yLabels: eTickLabelsY, yLabelX: 300.5,
    texts: [
      { s: 'E', x: 275, y: 268, font: LETTER, align: 'left', color: '#111' },
      { s: 'r²= 0.14', x: 435, y: 298, font: '12.5px ' + FONT, align: 'left' },
      { s: 'Mean CC CV (22°C)', x: 426.7, y: 487 },
      { s: 'Mean CC CV (25°C)', x: 283, y: 370, rot: true }
    ]
  }));

// ---- F
makeChart('cF', [dots(fPoints, '#111', 2.8)], [575.7, 278.3, 779, 460], [0.008, 0.1388], [0.0039, 0.243],
  framePlugin({
    tickFont: '9.5px ' + FONT, tickLen: 3.5,
    xTicks: cvTicksX, xLabels: cvTickLabelsX, xLabelY: 470,
    yTicks: fTicksY, yLabels: fTickLabelsY, yLabelX: 564,
    texts: [
      { s: 'F', x: 536, y: 268, font: LETTER, align: 'left', color: '#111' },
      { s: 'r²= 0.08', x: 700, y: 300, font: '12.5px ' + FONT, align: 'left' },
      { s: 'Mean CC CV (22°C)', x: 690, y: 487 },
      { s: 'Mean CC CV (26°C)', x: 550, y: 369, rot: true }
    ]
  }));
</script>
</body>
</html>
